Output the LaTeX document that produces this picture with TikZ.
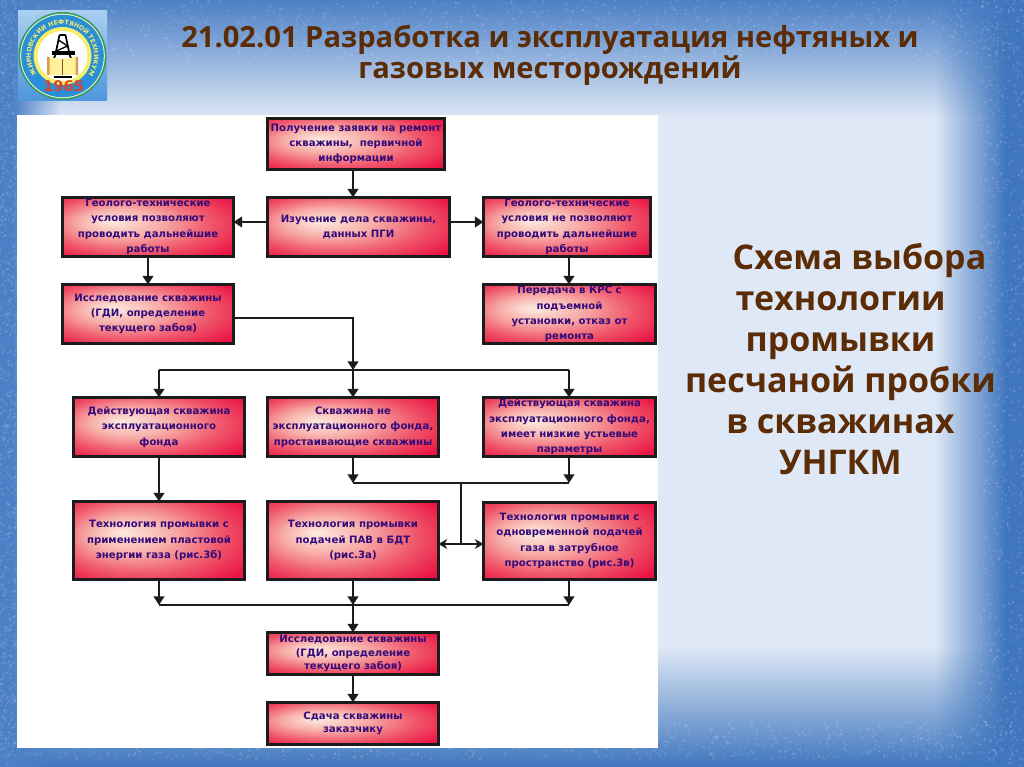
\documentclass[tikz,border=0pt]{standalone}
\usepackage{fontspec}
\setmainfont{DejaVu Sans}
\newfontfamily\titlefont{Open Sans}[BoldFont={Open Sans Bold}]
\usetikzlibrary{arrows.meta,fadings,decorations.text}
\definecolor{bgl}{HTML}{DEE8F6}
\definecolor{bgb}{HTML}{3F76BE}
\definecolor{bgt}{HTML}{4C80C6}
\definecolor{brownt}{HTML}{5B2C06}
\definecolor{boxt}{HTML}{330A7A}
\definecolor{lineb}{HTML}{1C1C1C}
\definecolor{logotop}{HTML}{A9CFF0}
\definecolor{logobot}{HTML}{4E96DC}
\definecolor{logoring}{HTML}{2A8FD8}
\definecolor{logogreen}{HTML}{2F9A6A}
\definecolor{logoyel}{HTML}{F4EE6A}
\definecolor{logored}{HTML}{D8452A}
\pgfdeclareradialshading{boxshade}{\pgfpoint{-11bp}{5bp}}{%
  rgb(0bp)=(.99,.92,.88);rgb(12bp)=(.97,.68,.66);rgb(24bp)=(.94,.34,.42);rgb(35bp)=(.92,.08,.27);rgb(50bp)=(.92,.08,.27)}
\tikzfading[name=fl2r,left color=transparent!100,right color=transparent!0]
\tikzfading[name=fr2l,right color=transparent!100,left color=transparent!0]
\tikzfading[name=ft2b,top color=transparent!100,bottom color=transparent!0]
\tikzfading[name=fb2t,bottom color=transparent!100,top color=transparent!0]
\tikzset{
  flowbox/.style={draw=lineb,line width=2.2pt,shading=boxshade,align=center,inner sep=0pt,outer sep=0pt,
    text=boxt,font=\bfseries\fontsize{7.6}{11.5}\selectfont},
  tight/.style={font=\bfseries\fontsize{7.6}{10.1}\selectfont},
  arr/.style={draw=lineb,line width=1.7pt,-{Triangle[length=6.5pt,width=8pt]}},
  plain/.style={draw=lineb,line width=1.4pt},
  dbl/.style={draw=lineb,line width=1.2pt,{Stealth[length=6.5pt,width=7.5pt]}-{Stealth[length=6.5pt,width=7.5pt]}},
  head/.style={text=brownt,font=\titlefont\bfseries\fontsize{21.85}{23}\selectfont,align=center,inner sep=0pt},
  side/.style={text=brownt,font=\titlefont\bfseries\fontsize{25.5}{30.7}\selectfont,align=center,inner sep=0pt},
}
% \fbx{name}{x1}{y1}{x2}{y2}{options}{text}
\newcommand{\fbx}[7]{%
  \pgfmathsetmacro{\bw}{(#4-#2)*0.75-2.2}\pgfmathsetmacro{\bh}{(#5-#3)*0.75-2.2}%
  \node[flowbox,minimum width=\bw pt,minimum height=\bh pt,#6] (#1) at ({(#2+#4)/2},{(#3+#5)/2}) {#7};}
\begin{document}
\begin{tikzpicture}[x=0.75pt,y=-0.75pt]
\useasboundingbox (0,0) rectangle (1024,767);
% background
\fill[bgl] (0,0) rectangle (1024,767);
\fill[bgt,path fading=fb2t,fit fading=true] (0,0) rectangle (1024,118);
\fill[bgb,path fading=ft2b,fit fading=true] (0,648) rectangle (1024,767);
\fill[bgb,path fading=fl2r,fit fading=true] (935,0) rectangle (1006,767);
\fill[bgb] (1005,0) rectangle (1024,767);
\fill[bgt] (0,0) rectangle (14,767);
\fill[bgt,path fading=fr2l,fit fading=true] (13,0) rectangle (60,767);
% texture
\pgfmathsetseed{4217}
\foreach \i in {1,...,900}{
  \pgfmathsetmacro{\sx}{rnd*1024}\pgfmathsetmacro{\sy}{rnd*60}
  \fill[white,opacity=.13] (\sx,\sy) circle[radius=1.3];
  \pgfmathsetmacro{\sx}{rnd*1024}\pgfmathsetmacro{\sy}{760-rnd*38}
  \fill[white,opacity=.13] (\sx,\sy) circle[radius=1.3];
}
\foreach \i in {1,...,700}{
  \pgfmathsetmacro{\sx}{1024-rnd*45}\pgfmathsetmacro{\sy}{rnd*767}
  \fill[white,opacity=.15] (\sx,\sy) circle[radius=1.2];
  \pgfmathsetmacro{\sx}{rnd*16}\pgfmathsetmacro{\sy}{rnd*767}
  \fill[white,opacity=.13] (\sx,\sy) circle[radius=1.2];
}
% panel
\fill[white] (17,115) rectangle (658,748);
% logo
\begin{scope}[shift={(62.5,56)},x=0.75pt,y=0.75pt]
  \shade[top color=logotop,bottom color=logobot] (-44.5,45) rectangle (44.5,-44);
  \fill[logogreen] (0,0) circle[radius=44];
  \fill[logoyel!50!white] (0,0) circle[radius=42.3];
  \fill[logoring] (0,0) circle[radius=41.3];
  \fill[logoyel] (0,0) circle[radius=29];
  \fill[white] (0,0) circle[radius=25];
  \path[decorate,decoration={text along path,text align=center,
    text={|\bfseries\fontsize{4.7}{6}\selectfont\color{logoyel}|ЖИРНОВСКИЙ НЕФТЯНОЙ ТЕХНИКУМ}}]
    (0,0) ++(212:31.5) arc[start angle=212,end angle=-32,radius=31.5];
  % derrick
  \draw[black,line width=1.3pt] (-3,21) -- (-7,2) (3,21) -- (7,2) (-3,21) -- (3,21);
  \draw[black,line width=1pt] (-4,16) -- (5,10) -- (-6,5);
  \fill[black] (-11,5) rectangle (12,1);
  \draw[black,line width=1.2pt] (-7,1) -- (-9,-3) (7,1) -- (9,-3);
  % book
  \fill[orange!25!yellow!40!white] (-15,-1) -- (0,-3) -- (15,-1) -- (15,-19) -- (-15,-19) -- cycle;
  \fill[brown!60!orange!80!white] (-15.5,-1) rectangle (-13,-19) (13,-1) rectangle (15.5,-19);
  \draw[brown!70!black,line width=.6pt] (0,-3) -- (0,-19);
  \fill[black] (-9,-20) rectangle (9,-22);
  \node[inner sep=0pt,text=logored,font=\bfseries\fontsize{11}{12}\selectfont] (logoyear) at (1,-30.5) {1965};
\end{scope}
% title
\node[head] (title) at (550,55) {21.02.01 Разработка и эксплуатация нефтяных и\\газовых месторождений};
\node[side] (sidetext) at (840.5,359) {\hspace*{28.5pt}Схема выбора\\технологии\\промывки\\песчаной пробки\\в скважинах\\УНГКМ};
% boxes
\fbx{b1}{266}{117}{446}{171}{}{Получение заявки на ремонт\\скважины,\ \ первичной\\информации}
\fbx{b2}{266}{196}{451}{258}{}{Изучение дела скважины,\\данных ПГИ}
\fbx{b3}{61}{196}{235}{258}{}{Геолого-технические\\условия позволяют\\проводить дальнейшие\\работы}
\fbx{b4}{482}{196}{652}{258}{}{Геолого-технические\\условия не позволяют\\проводить дальнейшие\\работы}
\fbx{b5}{61}{283}{235}{345}{}{Исследование скважины\\(ГДИ, определение\\текущего забоя)}
\fbx{b6}{482}{283}{657}{345}{}{Передача в КРС с\\подъемной\\установки, отказ от\\ремонта}
\fbx{b7}{72}{396}{246}{458}{}{Действующая скважина\\эксплуатационного\\фонда}
\fbx{b8}{266}{396}{440}{458}{}{Скважина не\\эксплуатационного фонда,\\простаивающие скважины}
\fbx{b9}{482}{396}{657}{458}{}{Действующая скважина\\эксплуатационного фонда,\\имеет низкие устьевые\\параметры}
\fbx{b10}{72}{500}{246}{581}{}{Технология промывки с\\применением пластовой\\энергии газа (рис.3б)}
\fbx{b11}{266}{500}{440}{581}{}{Технология промывки\\подачей ПАВ в БДТ\\(рис.3а)}
\fbx{b12}{482}{501}{657}{581}{}{Технология промывки с\\одновременной подачей\\газа в затрубное\\пространство (рис.3в)}
\fbx{b13}{266}{631}{440}{676}{tight}{Исследование скважины\\(ГДИ, определение\\текущего забоя)}
\fbx{b14}{266}{701}{440}{746}{tight}{Сдача скважины\\заказчику}
% guide coordinates
\coordinate (tr) at (353,0);
\coordinate (rr) at (569,0);
\coordinate (lr) at (148,0);
\coordinate (ll) at (159,0);
\coordinate (mid) at (461,0);
\coordinate (bar1) at (0,370);
\coordinate (bar2) at (0,483);
\coordinate (bar3) at (0,605);
\coordinate (hb5) at (0,318);
\coordinate (h2) at (0,222);
\coordinate (hd) at (0,544);
% connectors
\draw[arr] (b1.south -| tr) -- (b2.north -| tr);
\draw[arr] (b2.west |- h2) -- (b3.east |- h2);
\draw[arr] (b2.east |- h2) -- (b4.west |- h2);
\draw[arr] (b3.south -| lr) -- (b5.north -| lr);
\draw[arr] (b4.south -| rr) -- (b6.north -| rr);
\draw[arr] (b5.east |- hb5) -| (tr |- bar1);
\draw[arr] (tr |- bar1) -- (b8.north -| tr);
\draw[plain] (ll |- bar1) -- (rr |- bar1);
\draw[arr] (ll |- bar1) -- (b7.north -| ll);
\draw[arr] (rr |- bar1) -- (b9.north -| rr);
\draw[arr] (b7.south -| ll) -- (b10.north -| ll);
\draw[arr] (b8.south -| tr) -- (tr |- bar2);
\draw[arr] (b9.south -| rr) -- (rr |- bar2);
\draw[plain] (tr |- bar2) -- (rr |- bar2);
\draw[plain] (mid |- bar2) -- (mid |- hd);
\draw[dbl] (b11.east |- hd) -- (b12.west |- hd);
\draw[arr] (b10.south -| ll) -- (ll |- bar3);
\draw[arr] (b11.south -| tr) -- (tr |- bar3);
\draw[arr] (b12.south -| rr) -- (rr |- bar3);
\draw[plain] (ll |- bar3) -- (rr |- bar3);
\draw[arr] (tr |- bar3) -- (b13.north -| tr);
\draw[arr] (b13.south -| tr) -- (b14.north -| tr);
\end{tikzpicture}
\end{document}
